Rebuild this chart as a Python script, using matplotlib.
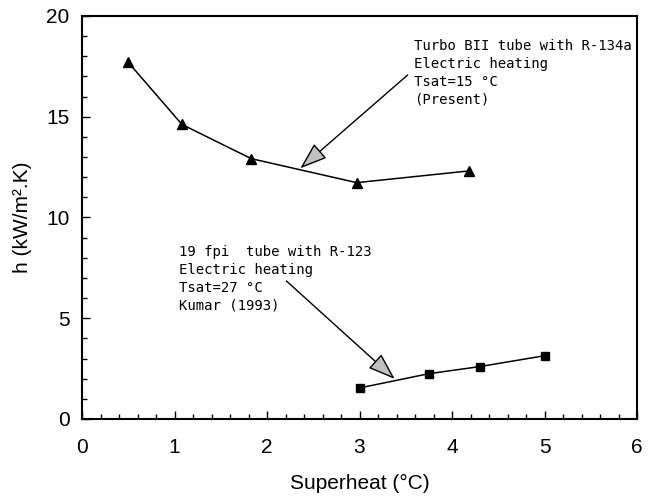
import matplotlib
matplotlib.use('Agg')
import matplotlib.pyplot as plt
from matplotlib.ticker import MultipleLocator

# Turbo BII tube with R-134a (present)
sh_present = [0.50, 1.08, 1.83, 2.97, 4.18]
h_present = [17.70, 14.62, 12.92, 11.73, 12.31]

# 19 fpi tube with R-123, Kumar (1993)
sh_kumar = [3.00, 3.75, 4.30, 5.00]
h_kumar = [1.54, 2.25, 2.60, 3.14]

note_present = 'Turbo BII tube with R-134a\nElectric heating\nTsat=15 °C\n(Present)'
note_kumar = '19 fpi  tube with R-123\nElectric heating\nTsat=27 °C\nKumar (1993)'

fig = plt.figure(figsize=(6.49, 4.99), dpi=100)
ax = fig.add_axes([82/649, 1 - 419/499, 555/649, 403/499])

ax.plot(sh_present, h_present, color='black', lw=1.1, marker='^', ms=7.2)
ax.plot(sh_kumar, h_kumar, color='black', lw=1.1, marker='s', ms=6.3)

arrow = dict(arrowstyle='-|>,head_length=0.85,head_width=0.3', mutation_scale=20,
             fc='#c0c0c0', ec='black', lw=1.0, shrinkA=0, shrinkB=0)
ax.annotate('', xy=(2.36, 12.44), xytext=(3.52, 17.07), arrowprops=arrow)
ax.annotate('', xy=(3.38, 1.99), xytext=(2.21, 6.85), arrowprops=arrow)

ax.text(3.59, 18.85, note_present, fontsize=10, va='top', ha='left',
        family='DejaVu Sans Mono', linespacing=1.35, clip_on=False)
ax.text(1.05, 8.62, note_kumar, fontsize=10, va='top', ha='left',
        family='DejaVu Sans Mono', linespacing=1.35)

ax.set_xlim(0, 6)
ax.set_ylim(0, 20)
ax.xaxis.set_major_locator(MultipleLocator(1))
ax.xaxis.set_minor_locator(MultipleLocator(0.2))
ax.yaxis.set_major_locator(MultipleLocator(5))
ax.yaxis.set_minor_locator(MultipleLocator(1))
ax.tick_params(which='both', direction='in', top=False, right=False, width=1,
               labelsize=15, labelfontfamily='Liberation Sans')
ax.tick_params(which='major', length=6)
ax.tick_params(which='minor', length=3.5)
ax.tick_params(axis='x', pad=14)
ax.tick_params(axis='y', pad=9)
for s in ax.spines.values():
    s.set_linewidth(1.5)

ax.set_xlabel('Superheat (°C)', fontsize=15, family='Liberation Sans', labelpad=12)
ax.set_ylabel('h (kW/m².K)', fontsize=15, family='Liberation Sans', labelpad=10)

fig.savefig('out.png', dpi=100)
